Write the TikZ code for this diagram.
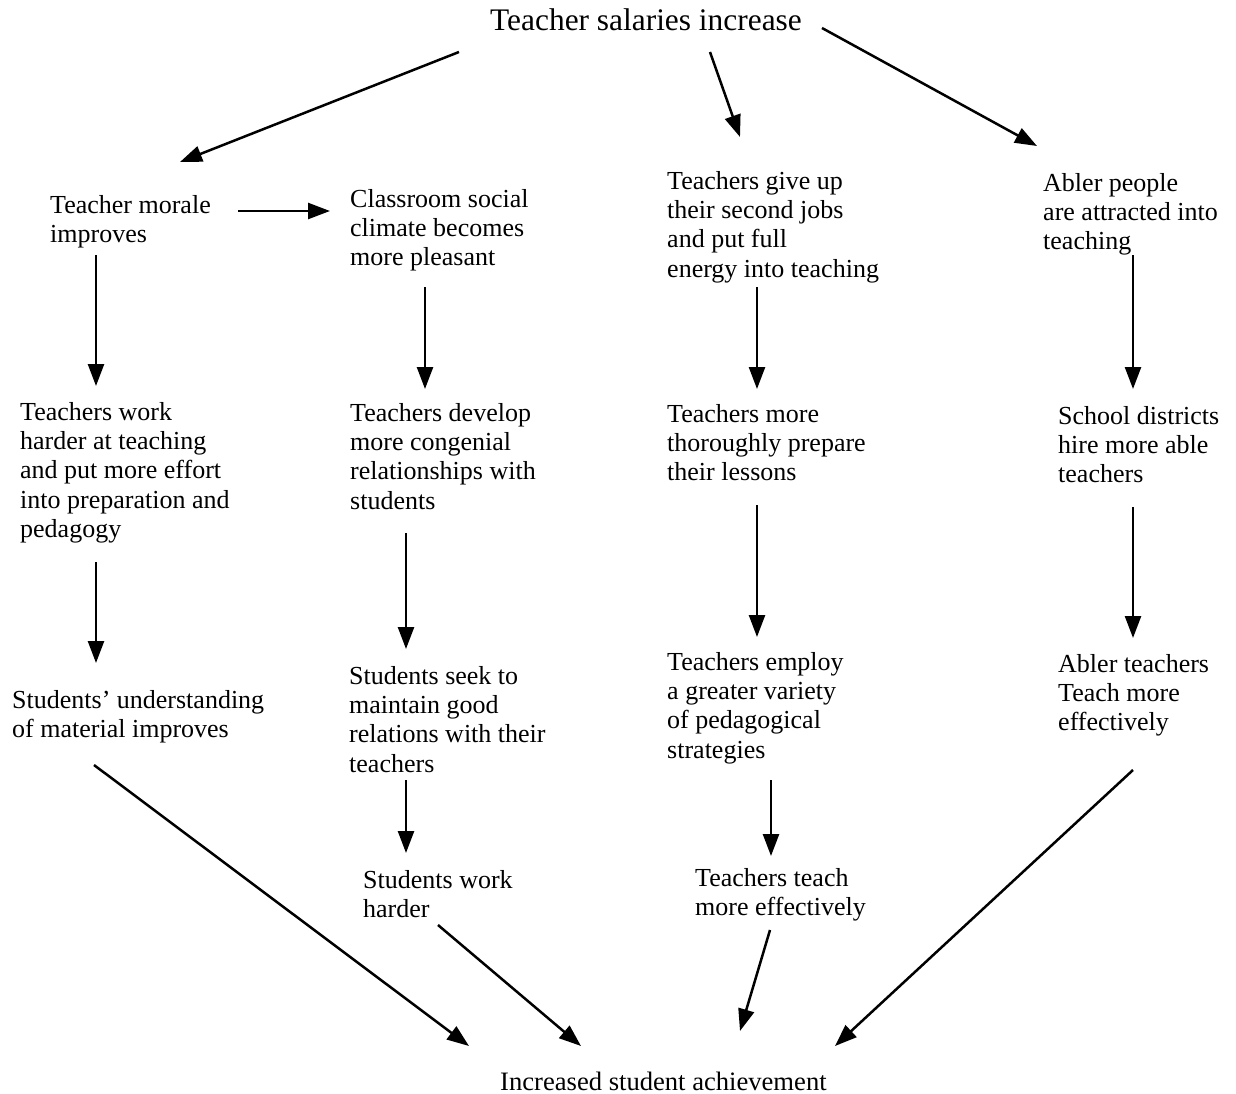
\documentclass[tikz,border=0pt]{standalone}
\usepackage{fontspec}
\setmainfont{Liberation Serif}
\usetikzlibrary{arrows.meta}
\begin{document}
\begin{tikzpicture}[x=1pt,y=-1pt,
  txt/.style={font=\fontsize{26}{29.3}\selectfont, align=left, inner sep=0pt, anchor=north west, yshift=-2pt},
  conn/.style={line width=2.5pt, -{Triangle[length=22pt,width=16pt]}}]
\useasboundingbox[fill=white] (0,0) rectangle (1236,1094);

% texts
\node[font=\fontsize{31.4}{35}\selectfont, inner sep=0pt, anchor=base west] (top) at (490,31) {Teacher salaries increase};
\node[txt] (morale) at (50,193) {Teacher morale\\improves};
\node[txt] (climate) at (350,187) {Classroom social\\climate becomes\\more pleasant};
\node[txt] (jobs) at (667,169) {Teachers give up\\their second jobs\\and put full\\energy into teaching};
\node[txt] (abler) at (1043,171) {Abler people\\are attracted into\\teaching};
\node[txt] (work) at (20,400) {Teachers work\\harder at teaching\\and put more effort\\into preparation and\\pedagogy};
\node[txt] (congenial) at (350,401) {Teachers develop\\more congenial\\relationships with\\students};
\node[txt] (prepare) at (667,402) {Teachers more\\thoroughly prepare\\their lessons};
\node[txt] (hire) at (1058,404) {School districts\\hire more able\\teachers};
\node[txt] (underst) at (12,688) {Students' understanding\\of material improves};
\node[txt] (seek) at (349,664) {Students seek to\\maintain good\\relations with their\\teachers};
\node[txt] (variety) at (667,650) {Teachers employ\\a greater variety\\of pedagogical\\strategies};
\node[txt] (ablerteach) at (1058,652) {Abler teachers\\Teach more\\effectively};
\node[txt] (studwork) at (363,868) {Students work\\harder};
\node[txt] (teach) at (695,866) {Teachers teach\\more effectively};
\node[font=\fontsize{26.6}{30}\selectfont, inner sep=0pt, anchor=base west] (achieve) at (500,1090) {Increased student achievement};

% arrow end points
\coordinate (a1s) at (459,52);   \coordinate (a1e) at (180,162);
\coordinate (a2s) at (710,52);   \coordinate (a2e) at (740,137);
\coordinate (a3s) at (822,28);   \coordinate (a3e) at (1037,146);
\coordinate (a4s) at (238,211);  \coordinate (a4e) at (330,211);
\coordinate (a5s) at (96,255);   \coordinate (a5e) at (96,386);
\coordinate (a6s) at (425,287);  \coordinate (a6e) at (425,389);
\coordinate (a7s) at (757,287);  \coordinate (a7e) at (757,389);
\coordinate (a8s) at (1133,255); \coordinate (a8e) at (1133,389);
\coordinate (a9s) at (96,562);   \coordinate (a9e) at (96,663);
\coordinate (a10s) at (406,533); \coordinate (a10e) at (406,649);
\coordinate (a11s) at (757,505); \coordinate (a11e) at (757,637);
\coordinate (a12s) at (1133,507);\coordinate (a12e) at (1133,638);
\coordinate (a13s) at (406,780); \coordinate (a13e) at (406,853);
\coordinate (a14s) at (771,780); \coordinate (a14e) at (771,856);
\coordinate (a15s) at (94,765);  \coordinate (a15e) at (469,1046);
\coordinate (a16s) at (438,925); \coordinate (a16e) at (581,1046);
\coordinate (a17s) at (770,930); \coordinate (a17e) at (740,1031);
\coordinate (a18s) at (1133,770);\coordinate (a18e) at (835,1046);

\foreach \i in {1,...,18} \draw[conn] (a\i s) -- (a\i e);
\end{tikzpicture}
\end{document}
